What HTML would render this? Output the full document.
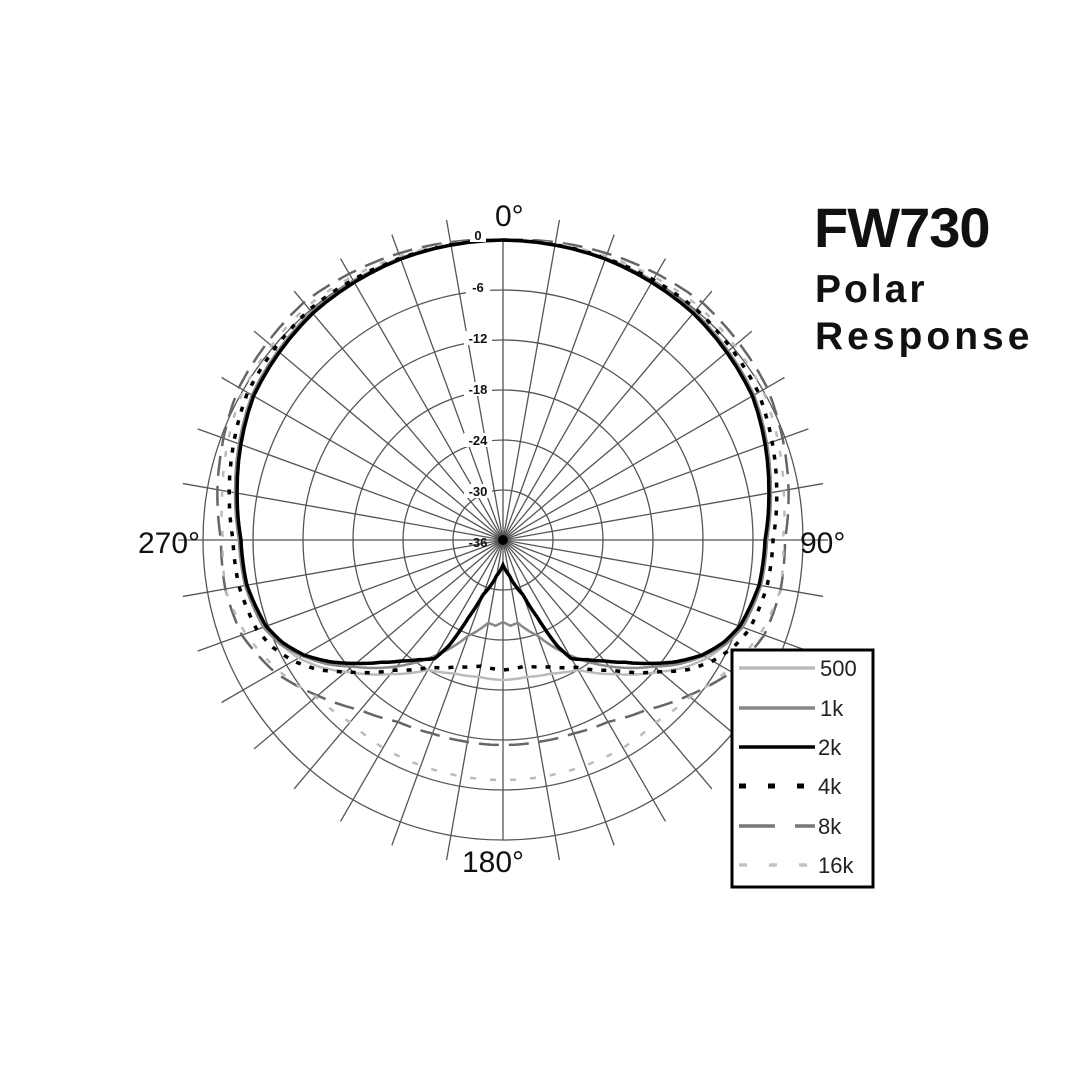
<!DOCTYPE html>
<html><head><meta charset="utf-8"><style>
html,body{margin:0;padding:0;background:#fff;}
body{width:1080px;height:1080px;overflow:hidden;position:relative;font-family:"Liberation Sans",Arial,sans-serif;}
.t{position:absolute;font-weight:bold;color:#111;white-space:nowrap;line-height:1;}
</style></head><body>
<svg id="s" width="1080" height="1080" style="position:absolute;left:0;top:0">
<g id="grid" stroke="#555" stroke-width="1.3" fill="none"></g>
<g id="curves" fill="none"></g>
<circle cx="503" cy="540" r="5" fill="#000"/>
<g font-family="Liberation Sans, Arial, sans-serif" font-weight="bold" font-size="13" fill="#111" text-anchor="middle">
<rect x="470" y="228" width="16" height="14" fill="#fff"/>
<text x="478" y="240">0</text>
<rect x="466" y="280" width="24" height="14" fill="#fff"/>
<text x="478" y="292">-6</text>
<rect x="464" y="331" width="28" height="14" fill="#fff"/>
<text x="478" y="343">-12</text>
<rect x="464" y="382" width="28" height="14" fill="#fff"/>
<text x="478" y="394">-18</text>
<rect x="464" y="433" width="28" height="14" fill="#fff"/>
<text x="478" y="445">-24</text>
<rect x="464" y="484" width="28" height="14" fill="#fff"/>
<text x="478" y="496">-30</text>
<text x="478" y="547">-36</text>
</g>
<g font-family="Liberation Sans, Arial, sans-serif" font-size="30" fill="#111">
<rect x="494" y="196" width="44" height="32" fill="#fff"/>
<text x="495" y="226">0°</text>
<text x="138" y="553">270°</text>
<text x="800" y="553">90°</text>
<text x="462" y="872">180°</text>
</g>
<rect x="732" y="650" width="141" height="237" fill="#fff" stroke="#000" stroke-width="3"/>
<g stroke-width="3.5">
<line x1="739" y1="668" x2="815" y2="668" stroke="#bbb"/>
<line x1="739" y1="708" x2="815" y2="708" stroke="#888"/>
<line x1="739" y1="747" x2="815" y2="747" stroke="#000"/>
<line x1="739" y1="786" x2="815" y2="786" stroke="#000" stroke-width="5" stroke-dasharray="7,22"/>
<line x1="739" y1="826" x2="815" y2="826" stroke="#777" stroke-dasharray="36,20"/>
<line x1="739" y1="865" x2="815" y2="865" stroke="#c4c4c4" stroke-dasharray="8,22"/>
</g>
<g font-family="Liberation Sans, Arial, sans-serif" font-size="22" fill="#222">
<text x="820" y="676">500</text>
<text x="820" y="716">1k</text>
<text x="818" y="755">2k</text>
<text x="818" y="794">4k</text>
<text x="818" y="834">8k</text>
<text x="818" y="873">16k</text>
</g>
</svg>
<div class="t" style="left:814px;top:200px;font-size:56px;letter-spacing:-1px;">FW730</div>
<div class="t" style="left:815px;top:270px;font-size:39px;letter-spacing:3px;">Polar</div>
<div class="t" style="left:815px;top:317px;font-size:39px;letter-spacing:4px;">Response</div>
<script>
(function(){
var cx=503,cy=540,NS="http://www.w3.org/2000/svg";
var g=document.getElementById('grid');
var cv=document.getElementById('curves');
function el(p,tag,a){var e=document.createElementNS(NS,tag);for(var k in a)e.setAttribute(k,a[k]);p.appendChild(e);return e;}
for(var r=50;r<=300;r+=50)el(g,'circle',{cx:cx,cy:cy,r:r});
for(var a=0;a<360;a+=10){var L=(a==0||a==180)?300:325;var t=a*Math.PI/180;
el(g,'line',{x1:cx,y1:cy,x2:cx+L*Math.sin(t),y2:cy-L*Math.cos(t)});}
function curve(pts,attrs){
 var full=[];
 for(var i=0;i<pts.length;i++)full.push(pts[i]);
 for(var i=pts.length-2;i>=0;i--)full.push([360-pts[i][0],pts[i][1]]);
 var out=[];
 for(var i=0;i<full.length-1;i++){var A=full[i],B=full[i+1];
  for(var s=0;s<6;s++){var f=s/6;var an=A[0]+(B[0]-A[0])*f,rr=A[1]+(B[1]-A[1])*f;var t=an*Math.PI/180;out.push((cx+rr*Math.sin(t)).toFixed(1)+','+(cy-rr*Math.cos(t)).toFixed(1));}}
 var l=full[full.length-1];var t=l[0]*Math.PI/180;out.push((cx+l[1]*Math.sin(t)).toFixed(1)+','+(cy-l[1]*Math.cos(t)).toFixed(1));
 attrs.d='M'+out.join(' L');
 el(cv,'path',attrs);
}
var upper=[[0,300],[20,300],[40,298],[60,290],[80,272],[90,264],[100,262],[110,255],[115,246]];
curve(upper.concat([[120,236],[125,222],[130,205],[140,175],[150,150],[160,142],[170,139],[180,140]]),{stroke:'#bbb','stroke-width':2.5});
curve(upper.concat([[120,232],[125,216],[130,197],[140,165],[150,133],[160,102],[170,84],[175,86],[180,82]]),{stroke:'#888','stroke-width':2.5});
curve([[0,300],[20,300],[40,301],[60,295],[80,278],[90,270],[100,268],[110,262],[115,254],[120,242],[125,226],[130,205],[140,170],[150,147],[160,135],[170,128],[180,130]],{stroke:'#000','stroke-width':3.5,'stroke-dasharray':'5,9'});
curve([[0,300],[20,305],[40,310],[60,305],[80,290],[90,282],[100,282],[110,278],[120,264],[130,242],[140,222],[150,210],[160,206],[170,205],[180,205]],{stroke:'#666','stroke-width':2.5,'stroke-dasharray':'20,10'});
curve([[0,300],[20,302],[40,305],[60,300],[80,285],[90,280],[100,282],[110,274],[120,260],[130,244],[140,238],[150,240],[160,240],[170,240],[180,240]],{stroke:'#bbb','stroke-width':2.5,'stroke-dasharray':'6,14'});
curve([[0,300],[20,299],[40,296],[60,288],[80,270],[90,262],[100,260],[110,252],[115,243],[120,230],[125,212],[130,192],[135,173],[140,158],[145,146],[150,137],[153,118],[156,85],[160,58],[170,36],[180,25]],{stroke:'#000','stroke-width':3.5});
})();
</script>
</body></html>
